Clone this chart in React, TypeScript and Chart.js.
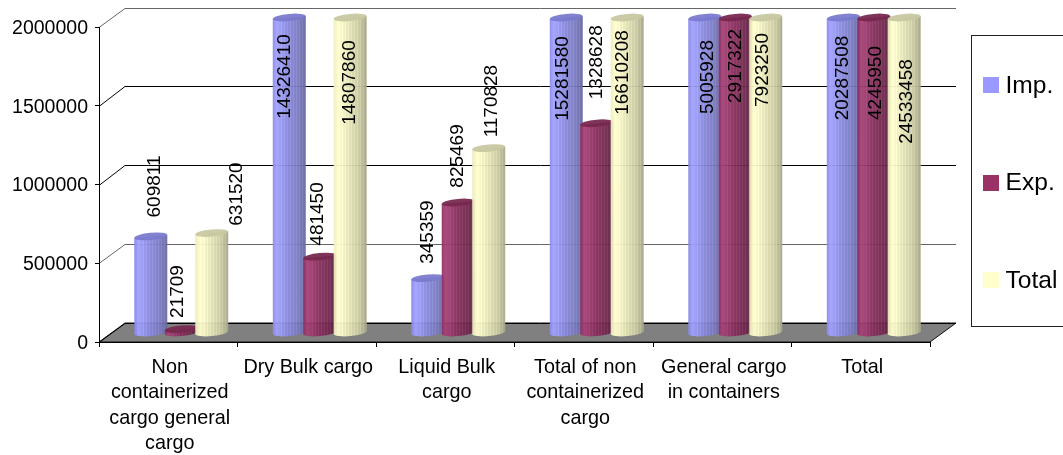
import React, { useEffect, useRef } from "react";
import { Chart, registerables } from "chart.js";

Chart.register(...registerables);

const categories = [
  ["Non", "containerized", "cargo general", "cargo"],
  "Dry Bulk cargo",
  ["Liquid Bulk", "cargo"],
  ["Total of non", "containerized", "cargo"],
  ["General cargo", "in containers"],
  "Total",
];
const impValues = [609811, 14326410, 345359, 15281580, 5005928, 20287508];
const expValues = [21709, 481450, 825469, 1328628, 2917322, 4245950];
const totalValues = [631520, 14807860, 1170828, 16610208, 7923250, 24533458];
const yTicksMax = 2000000;
const yStep = 500000;

const FONT = '"Liberation Sans", Arial, sans-serif';
const DEPTH_X = 26;
const DEPTH_Y = 19;

// Hand placement of the rotated value labels relative to the top of each cylinder [dx, dy]
const labelShift = [
  [[3.5, -50], [-5, 59], [0, -46], [-4, 61], [2.5, 59.5], [-1, 60.5]],
  [[-3, -37.6], [-1.5, -42.7], [0, -46.5], [0, -61], [1, 48.5], [2.5, 65.5]],
  [[25.5, -39], [0, 65], [3.5, -47], [-4, 55], [-2.5, 52.5], [3, 84]],
];

// [position across the cylinder, r, g, b]
const shades = [
  { top: "#7a7ace", stops: [[0, 136, 136, 232], [0.12, 160, 160, 255], [0.45, 134, 134, 218], [0.75, 120, 120, 190], [1, 100, 100, 156]] },
  { top: "#77284f", stops: [[0, 140, 48, 96], [0.12, 166, 64, 118], [0.45, 132, 44, 90], [0.75, 112, 38, 76], [1, 84, 30, 58]] },
  { top: "#c8c8a2", stops: [[0, 236, 236, 190], [0.15, 255, 255, 206], [0.45, 226, 226, 180], [0.75, 200, 200, 160], [1, 158, 158, 132]] },
];

function shadeAt(stops: number[][], t: number, px: number) {
  let i = 0;
  while (i < stops.length - 2 && t > stops[i + 1][0]) i++;
  const a = stops[i];
  const b = stops[i + 1];
  const k = Math.min(1, (t - a[0]) / (b[0] - a[0]));
  // fine vertical ribbing of the cylinder facets
  const rib = t > 0.2 && px % 3 === 0 ? 12 : 0;
  const c = [1, 2, 3].map((j) => Math.min(255, Math.round(a[j] + (b[j] - a[j]) * k + rib)));
  return `rgb(${c[0]},${c[1]},${c[2]})`;
}

function drawCylinder(ctx: CanvasRenderingContext2D, cx: number, yTop: number, yBot: number, rx: number, shade: any) {
  const ry = 3.6;
  const rot = -0.09;
  const t = rx * Math.sin(-rot);
  ctx.save();
  ctx.globalAlpha = 0.94;
  ctx.beginPath();
  ctx.moveTo(cx - rx, yTop + t);
  ctx.lineTo(cx + rx, yTop - t);
  ctx.lineTo(cx + rx, yBot - t);
  ctx.ellipse(cx, yBot, rx, ry, rot, 0, Math.PI);
  ctx.closePath();
  ctx.save();
  ctx.clip();
  const x0 = Math.floor(cx - rx);
  const w = Math.ceil(rx * 2) + 1;
  for (let i = 0; i < w; i++) {
    ctx.fillStyle = shadeAt(shade.stops, Math.max(0, Math.min(1, i / (w - 1))), i);
    ctx.fillRect(x0 + i, yTop - t - ry - 2, 1, yBot - yTop + 2 * t + 2 * ry + 6);
  }
  ctx.restore();
  ctx.beginPath();
  ctx.ellipse(cx, yTop, rx, ry, rot, 0, Math.PI * 2);
  ctx.fillStyle = shade.top;
  ctx.fill();
  ctx.restore();
}

const scene3d = {
  id: "scene3d",
  beforeDraw(chart: any) {
    const { ctx, chartArea: a, scales } = chart;
    const y = scales.y;
    ctx.save();
    // floor
    ctx.beginPath();
    ctx.moveTo(a.left, a.bottom);
    ctx.lineTo(a.right, a.bottom);
    ctx.lineTo(a.right + DEPTH_X, a.bottom - DEPTH_Y);
    ctx.lineTo(a.left + DEPTH_X, a.bottom - DEPTH_Y);
    ctx.closePath();
    ctx.fillStyle = "#808080";
    ctx.fill();
    ctx.strokeStyle = "#111";
    ctx.lineWidth = 1;
    ctx.stroke();
    // wall gridlines
    y.ticks.forEach((tick: any) => {
      const py = y.getPixelForValue(tick.value);
      const wy = Math.floor(py - DEPTH_Y) + 0.5;
      ctx.beginPath();
      ctx.moveTo(a.left, Math.round(py) + 0.5);
      ctx.lineTo(a.left + DEPTH_X, wy);
      ctx.lineTo(a.right + DEPTH_X, wy);
      ctx.strokeStyle = tick.value === yTicksMax || tick.value === yStep ? "#666" : "#000";
      ctx.stroke();
    });
    ctx.restore();
  },
  beforeDatasetsDraw(chart: any) {
    const { ctx, chartArea: a } = chart;
    chart.data.datasets.forEach((_: any, di: number) => {
      chart.getDatasetMeta(di).data.forEach((bar: any) => {
        const yTop = Math.max(bar.y, a.top) - DEPTH_Y / 2;
        const yBot = a.bottom - DEPTH_Y / 2;
        drawCylinder(ctx, bar.x + DEPTH_X / 2, yTop, yBot, bar.width / 2 + 1.3, shades[di]);
      });
    });
    return false;
  },
  afterDraw(chart: any) {
    const { ctx, chartArea: a } = chart;
    ctx.save();
    // value labels
    ctx.font = `19px ${FONT}`;
    ctx.fillStyle = "#000";
    ctx.textAlign = "center";
    ctx.textBaseline = "middle";
    chart.data.datasets.forEach((ds: any, di: number) => {
      chart.getDatasetMeta(di).data.forEach((bar: any, i: number) => {
        const yTop = Math.max(bar.y, a.top) - DEPTH_Y / 2;
        const [dx, dy] = labelShift[di][i];
        ctx.save();
        ctx.translate(bar.x + DEPTH_X / 2 + dx, yTop + dy);
        ctx.rotate(-Math.PI / 2);
        ctx.fillText(String(ds.data[i]), 0, 0);
        ctx.restore();
      });
    });
    // legend
    ctx.fillStyle = "#fff";
    ctx.strokeStyle = "#222";
    ctx.lineWidth = 1;
    ctx.fillRect(971.5, 35.5, 100, 291);
    ctx.strokeRect(971.5, 35.5, 100, 291);
    ctx.font = `24.6px ${FONT}`;
    ctx.textAlign = "left";
    chart.data.datasets.forEach((ds: any, di: number) => {
      const cy = 85 + di * 97.5;
      ctx.fillStyle = ds.backgroundColor;
      ctx.fillRect(983, Math.round(cy - 8), 16, 16);
      ctx.fillStyle = "#000";
      ctx.fillText(ds.label, 1005.5, cy + 1);
    });
    ctx.restore();
  },
};

export default function App() {
  const ref = useRef<HTMLCanvasElement>(null);
  useEffect(() => {
    const chart = new Chart(ref.current as HTMLCanvasElement, {
      type: "bar",
      data: {
        labels: categories as any,
        datasets: [
          { label: "Imp.", data: impValues, backgroundColor: "#9999FF" },
          { label: "Exp.", data: expValues, backgroundColor: "#993366" },
          { label: "Total", data: totalValues, backgroundColor: "#FFFFCC" },
        ],
      },
      options: {
        responsive: false,
        animation: false,
        datasets: { bar: { categoryPercentage: 0.66, barPercentage: 1 } },
        layout: { padding: { top: 27, right: 133, left: 0, bottom: 0 } },
        plugins: { legend: { display: false }, tooltip: { enabled: false } },
        scales: {
          x: {
            afterFit: (s: any) => { s.height = 113; },
            grid: { drawOnChartArea: false, drawTicks: true, tickLength: 5, color: "#000" },
            border: { color: "#000" },
            ticks: {
              color: "#000",
              font: { family: FONT, size: 19.8, lineHeight: 1.28 },
              autoSkip: false,
              maxRotation: 0,
              minRotation: 0,
              padding: 8,
              labelOffset: 1.5,
            },
          },
          y: {
            min: 0,
            max: yTicksMax,
            afterFit: (s: any) => { s.width = 99; },
            grid: { drawOnChartArea: false, drawTicks: true, tickLength: 4, color: "#000" },
            border: { color: "#000" },
            ticks: {
              stepSize: yStep,
              color: "#000",
              font: { family: FONT, size: 19.5 },
              padding: 7,
              labelOffset: 1.5,
              callback: (v: any) => String(v),
            },
          },
        },
      },
      plugins: [scene3d],
    } as any);
    return () => chart.destroy();
  }, []);
  return (
    <canvas
      ref={ref}
      width={1063}
      height={455}
      style={{ position: "fixed", left: 0, top: 0, width: 1063, height: 455, background: "#fff" }}
    />
  );
}
